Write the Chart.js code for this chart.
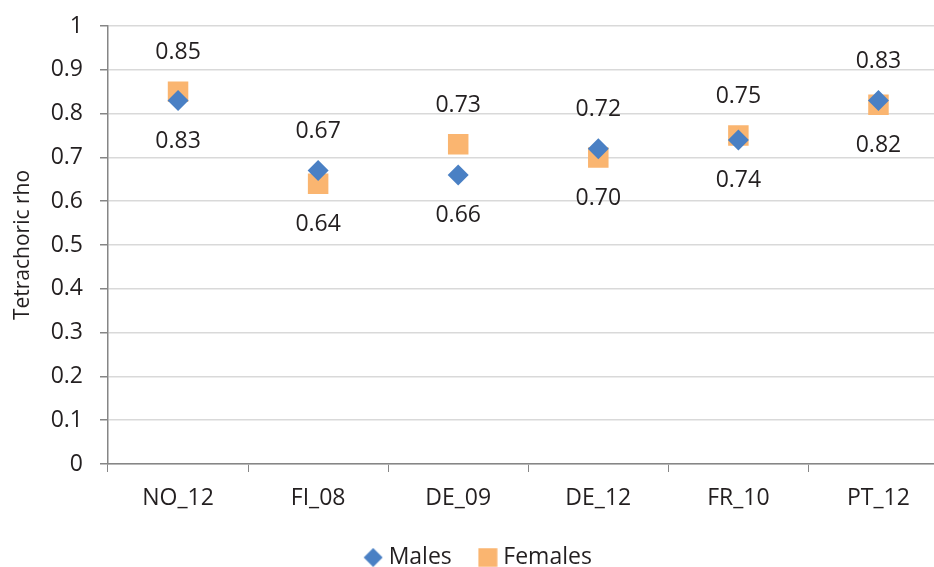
<!DOCTYPE html>
<html>
<head>
<meta charset="utf-8">
<title>Tetrachoric rho</title>
<script src="https://cdn.jsdelivr.net/npm/chart.js@4"></script>
<style>
  html, body { margin: 0; padding: 0; background: #fff; overflow: hidden; }
  canvas { display: block; }
</style>
</head>
<body>
<canvas id="myChart" width="963" height="567"></canvas>
<script>
var categories = ['NO_12', 'FI_08', 'DE_09', 'DE_12', 'FR_10', 'PT_12'];
var males = [0.83, 0.67, 0.66, 0.72, 0.74, 0.83];
var females = [0.85, 0.64, 0.73, 0.70, 0.75, 0.82];
var yMin = 0, yMax = 1, yStep = 0.1;

var textColor = '#231f20';
var maleColor = '#4a80c4';
var femaleColor = '#fab570';
Chart.defaults.font.family = '"Open Sans", sans-serif';
Chart.defaults.font.size = 23;
Chart.defaults.color = textColor;

// small legend symbols, same look as the markers
function legendIcon(kind, color) {
    var c = document.createElement('canvas');
    c.width = 20; c.height = 20;
    var g = c.getContext('2d');
    g.fillStyle = color;
    g.beginPath();
    if (kind === 'diamond') {
        g.moveTo(10, 0.5); g.lineTo(19.5, 10); g.lineTo(10, 19.5); g.lineTo(0.5, 10);
    } else {
        g.rect(0.5, 0.5, 19, 19);
    }
    g.closePath();
    g.fill();
    return c;
}
var maleIcon = legendIcon('diamond', maleColor);
var femaleIcon = legendIcon('square', femaleColor);

// value labels: the higher point of each pair gets its label above, the other below
var pointLabels = {
    id: 'pointLabels',
    afterDatasetsDraw: function (chart) {
        var ctx = chart.ctx;
        ctx.save();
        ctx.font = '23px "Open Sans", sans-serif';
        ctx.fillStyle = textColor;
        ctx.textAlign = 'center';
        ctx.textBaseline = 'middle';
        chart.data.datasets.forEach(function (ds, di) {
            var other = chart.data.datasets[1 - di].data;
            chart.getDatasetMeta(di).data.forEach(function (pt, i) {
                var up = ds.data[i] > other[i];
                ctx.fillText(ds.data[i].toFixed(2), pt.x, pt.y + (up ? -39 : 41));
            });
        });
        ctx.restore();
    }
};

var ctx = document.getElementById('myChart').getContext('2d');
var chart = new Chart(ctx, {
    type: 'line',
    data: {
        labels: categories,
        datasets: [{
            label: 'Males',
            data: males,
            showLine: false,
            pointStyle: 'rectRot',
            pointRadius: 10.5,
            pointHoverRadius: 10.5,
            pointBorderWidth: 0,
            backgroundColor: maleColor,
            borderColor: maleColor
        }, {
            label: 'Females',
            data: females,
            showLine: false,
            pointStyle: 'rect',
            pointRadius: 14.5,
            pointHoverRadius: 14.5,
            pointBorderWidth: 0,
            backgroundColor: femaleColor,
            borderColor: femaleColor
        }]
    },
    options: {
        responsive: false,
        animation: false,
        events: [],
        layout: { padding: { top: 26, right: 2, bottom: -12, left: 0 } },
        plugins: {
            tooltip: { enabled: false },
            legend: {
                position: 'bottom',
                labels: {
                    usePointStyle: true,
                    boxWidth: 8,
                    boxHeight: 8,
                    padding: 32,
                    color: textColor,
                    font: { size: 23 },
                    generateLabels: function (chart) {
                        var items = Chart.defaults.plugins.legend.labels.generateLabels(chart);
                        items[0].pointStyle = maleIcon;
                        items[1].pointStyle = femaleIcon;
                        return items;
                    }
                }
            }
        },
        scales: {
            x: {
                offset: true,
                grid: {
                    offset: true,
                    drawOnChartArea: false,
                    tickLength: 8,
                    tickColor: '#868686'
                },
                border: { color: '#868686', width: 1.5 },
                ticks: { padding: 13, color: textColor, font: { size: 23 } },
                afterFit: function (scale) {
                    scale.height = 50;
                    scale.paddingLeft = 0;
                    scale.paddingRight = 0;
                }
            },
            y: {
                min: yMin,
                max: yMax,
                ticks: {
                    stepSize: yStep,
                    padding: 17,
                    color: textColor,
                    font: { size: 23 },
                    callback: function (v) { return String(+v.toFixed(1)); }
                },
                grid: {
                    color: '#d9d9d9',
                    lineWidth: 1.5,
                    tickLength: 8,
                    tickColor: '#868686'
                },
                border: { color: '#868686', width: 1.5 },
                title: {
                    display: true,
                    text: 'Tetrachoric rho',
                    color: textColor,
                    font: { size: 21 },
                    padding: { top: 10, bottom: 0 }
                },
                afterFit: function (scale) {
                    scale.width = 108;
                    scale.paddingTop = 0;
                    scale.paddingBottom = 0;
                }
            }
        }
    },
    plugins: [pointLabels]
});
</script>
</body>
</html>
